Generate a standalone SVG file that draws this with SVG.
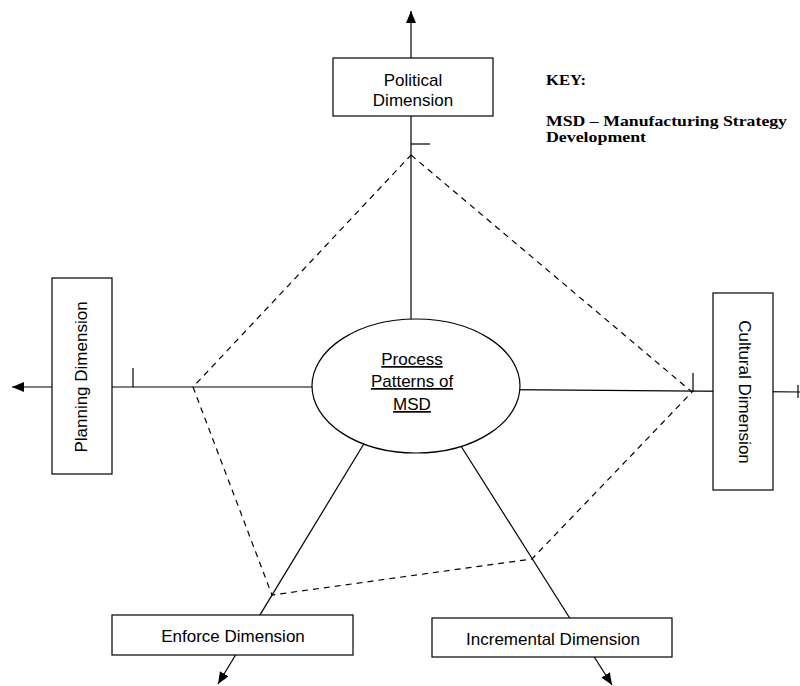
<svg xmlns="http://www.w3.org/2000/svg" width="800" height="686" viewBox="0 0 800 686">
<style>
.box{fill:#fff;stroke:#000;stroke-width:1.2}
.ln{stroke:#000;stroke-width:1.2;fill:none}
.dash{stroke:#000;stroke-width:1.2;fill:none;stroke-dasharray:6 5}
.lbl{font-family:"Liberation Sans",Arial,sans-serif;font-size:17px;fill:#000;text-anchor:middle}
.key{font-family:"Liberation Serif","Times New Roman",serif;font-size:15px;font-weight:bold;fill:#000}
</style>
<defs>
<marker id="arr" viewBox="0 0 12 10" refX="12" refY="5" markerWidth="12" markerHeight="10" markerUnits="userSpaceOnUse" orient="auto">
<path d="M0,0 L12,5 L0,10 z" fill="#000"/>
</marker>
</defs>
<rect width="800" height="686" fill="#fff"/>
<g id="connectors">
<line class="ln" x1="411" y1="386" x2="411" y2="11" marker-end="url(#arr)"/>
<line class="ln" x1="416" y1="387" x2="12" y2="387" marker-end="url(#arr)"/>
<line class="ln" x1="416" y1="389" x2="800" y2="392"/>
<line class="ln" x1="399" y1="386" x2="218" y2="684" marker-end="url(#arr)"/>
<line class="ln" x1="423" y1="386" x2="612" y2="685" marker-end="url(#arr)"/>
<line class="ln" x1="411" y1="144" x2="430" y2="144"/>
<line class="ln" x1="133" y1="387" x2="133" y2="368"/>
<line class="ln" x1="693" y1="392" x2="693" y2="373"/>
<line class="ln" x1="798" y1="385" x2="798" y2="398"/>
<polygon class="dash" points="411,155 692,392 532,559 272,595 193,387"/>
</g>
<g id="political">
<rect class="box" x="333" y="58" width="160" height="58"/>
<text class="lbl" x="413" y="86">Political</text>
<text class="lbl" x="413" y="106">Dimension</text>
</g>
<g id="planning">
<rect class="box" x="52" y="278" width="60" height="196"/>
<text class="lbl" transform="translate(87,377) rotate(-90)">Planning Dimension</text>
</g>
<g id="cultural">
<rect class="box" x="713" y="293" width="60" height="197"/>
<text class="lbl" transform="translate(739,392) rotate(90)">Cultural Dimension</text>
</g>
<g id="enforce">
<rect class="box" x="112" y="615" width="241" height="40"/>
<text class="lbl" x="233" y="642">Enforce Dimension</text>
</g>
<g id="incremental">
<rect class="box" x="432" y="618" width="240" height="39"/>
<text class="lbl" x="553" y="645">Incremental Dimension</text>
</g>
<g id="process">
<ellipse class="box" cx="416" cy="386" rx="104" ry="67"/>
<text class="lbl" x="412" y="365" text-decoration="underline">Process</text>
<text class="lbl" x="412" y="387" text-decoration="underline">Patterns of</text>
<text class="lbl" x="412" y="410" text-decoration="underline">MSD</text>
</g>
<g id="key">
<text class="key" x="546" y="85" textLength="40" lengthAdjust="spacingAndGlyphs">KEY:</text>
<text class="key" x="546" y="126" textLength="241" lengthAdjust="spacingAndGlyphs">MSD – Manufacturing Strategy</text>
<text class="key" x="546" y="142" textLength="100" lengthAdjust="spacingAndGlyphs">Development</text>
</g>
</svg>
